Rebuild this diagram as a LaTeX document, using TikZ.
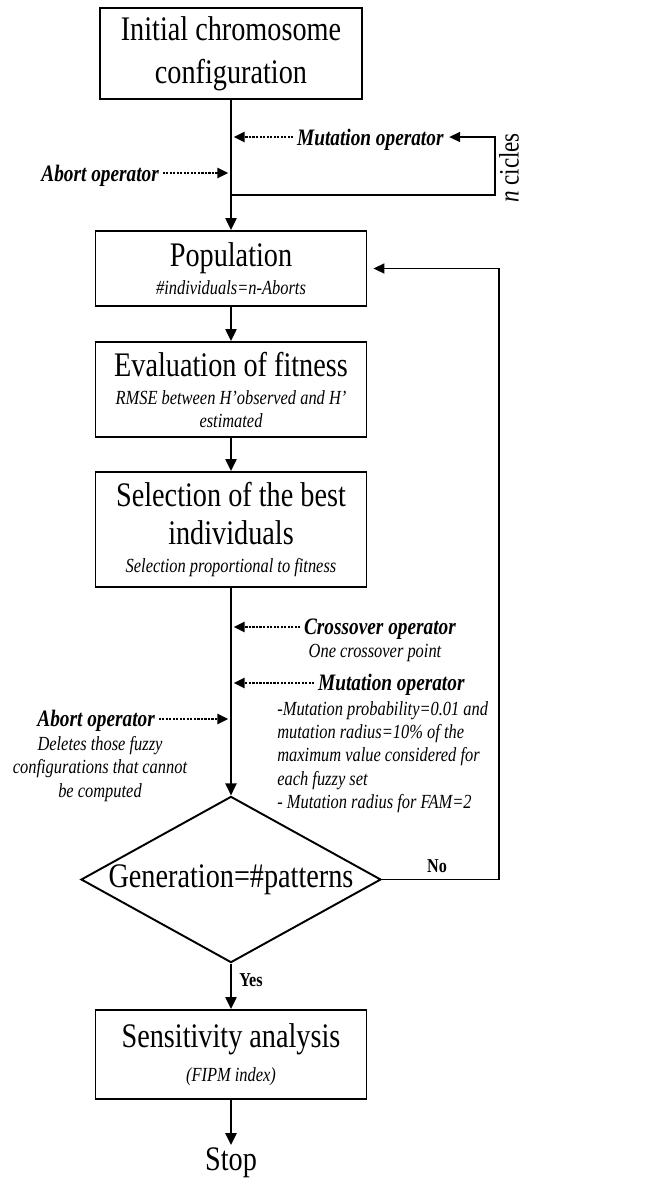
\documentclass[tikz,border=0pt]{standalone}
\usepackage{fontspec}
\setmainfont{Liberation Serif}[FakeStretch=0.82]
\usetikzlibrary{positioning,calc,shapes.geometric,arrows.meta}
\newcommand{\mainfs}{\fontsize{19.6}{22}\selectfont}
\newcommand{\subfs}{\fontsize{11.4}{13.3}\selectfont\itshape}
\newcommand{\opfs}{\fontsize{13.4}{15}\selectfont\bfseries\itshape}
\newcommand{\ynfs}{\fontsize{11.2}{13}\selectfont\bfseries}

\begin{document}
\begin{tikzpicture}[x=0.02cm,y=-0.02cm,
		box/.style={draw, line width=1.1pt, minimum width=5.42cm, align=center, font=\mainfs, inner sep=0pt},
		decis/.style={diamond, draw, line width=1.1pt, font=\mainfs, inner sep=0pt, aspect=1.8, minimum width=6cm, minimum height=3.32cm},
		op/.style={font=\opfs, inner sep=1pt},
		desc/.style={font=\subfs, inner sep=0pt},
		arr/.style={line width=1.3pt, -{Triangle[length=0.24cm, width=0.22cm]}},
		dotarr/.style={line width=1.3pt, dash pattern=on 1.2pt off 0.8pt, -{Triangle[length=0.22cm, width=0.2cm]}, shorten >=1.5pt, shorten <=1pt},
		loopline/.style={line width=0.9pt}
		]
		\useasboundingbox (0,0) rectangle (666,1178);
		
		% ===== main boxes =====
		\node[box, minimum width=5.24cm, minimum height=1.82cm] (init) at (231,53.5) {Initial chromosome\\[2.5pt]configuration};
		\node[box, minimum height=1.5cm] (pop) at (231,268.5) {Population\\[-6pt]{\subfs \#individuals=n-Aborts}};
		\node[box, minimum height=1.9cm] (eval) at (231,389.5) {Evaluation of fitness\\[-6pt]{\subfs RMSE between H’observed and H’}\\[-9pt]{\subfs estimated}};
		\node[box, minimum height=2.3cm] (sel) at (231,529.5) {Selection of the best\\individuals\\[-6pt]{\subfs Selection proportional to fitness}};
		\node[decis] (dec) at (231,879.5) {Generation=\#patterns};
		\node[box, minimum height=1.78cm] (sens) at (231,1054.5) {Sensitivity analysis\\[-3pt]{\subfs (FIPM index)}};
		\node[font=\mainfs, inner sep=1pt, anchor=base] (stop) at (231,1170) {Stop};
		
		% ===== main flow =====
		\draw[arr] (init) -- (pop);
		\draw[arr] (pop) -- (eval);
		\draw[arr] (eval) -- (sel);
		\draw[arr] (sel) -- (dec);
		\draw[arr] (dec) -- (sens);
		\draw[arr] (sens) -- (stop);
		\node[font=\ynfs] (yes) at (251,980) {Yes};
		
		% ===== first operators + n cicles loop =====
		\coordinate (m1) at (231,137);
		\coordinate (a1) at (231,173);
		\coordinate (lp) at (231,195);
		\coordinate (lpr) at (495,195);
		\node[op, anchor=base west] (mut1) at (295,145) {Mutation operator};
		\node[op, anchor=base east] (abort1) at (161,181) {Abort operator};
		\draw[dotarr] (mut1.west |- m1) -- (m1);
		\draw[dotarr] (abort1.east |- a1) -- (a1);
		\draw[loopline, -{Triangle[length=0.22cm, width=0.2cm]}, shorten >=2pt] (lp) -- (lpr) |- (mut1.east |- m1);
		\node[font=\fontsize{16}{18}\selectfont, rotate=90] (ncyc) at (509,168) {\textit{n} cicles};
		
		% ===== operators before the decision =====
		\coordinate (m2) at (231,627);
		\coordinate (m3) at (231,683);
		\coordinate (a2) at (231,719);
		\node[op, anchor=base west] (cross) at (302,634) {Crossover operator};
		\node[desc, anchor=base] (crossd) at (375,657) {One crossover point};
		\node[op, anchor=base west] (mut2) at (316,690) {Mutation operator};
		\node[desc, align=left, anchor=north west] (mutd) at (277,701) {-Mutation probability=0.01 and\\mutation radius=10\% of the\\maximum value considered for\\each fuzzy set\\- Mutation radius for FAM=2};
		\node[op, anchor=base east] (abort2) at (157,726) {Abort operator};
		\node[desc, align=center, anchor=north] (abortd) at (100,736) {Deletes those fuzzy\\configurations that cannot\\be computed};
		\draw[dotarr] (cross.west |- m2) -- (m2);
		\draw[dotarr] (mut2.west |- m3) -- (m3);
		\draw[dotarr] (abort2.east |- a2) -- (a2);
		
		% ===== No loop back to population =====
		\coordinate (nocorner) at (499,879.5);
		\draw[loopline, -{Triangle[length=0.22cm, width=0.2cm]}, shorten >=3.4pt] (dec.east) -- (nocorner) |- (pop.east);
		\node[font=\ynfs] (no) at (437,866) {No};
		
	\end{tikzpicture}
\end{document}
